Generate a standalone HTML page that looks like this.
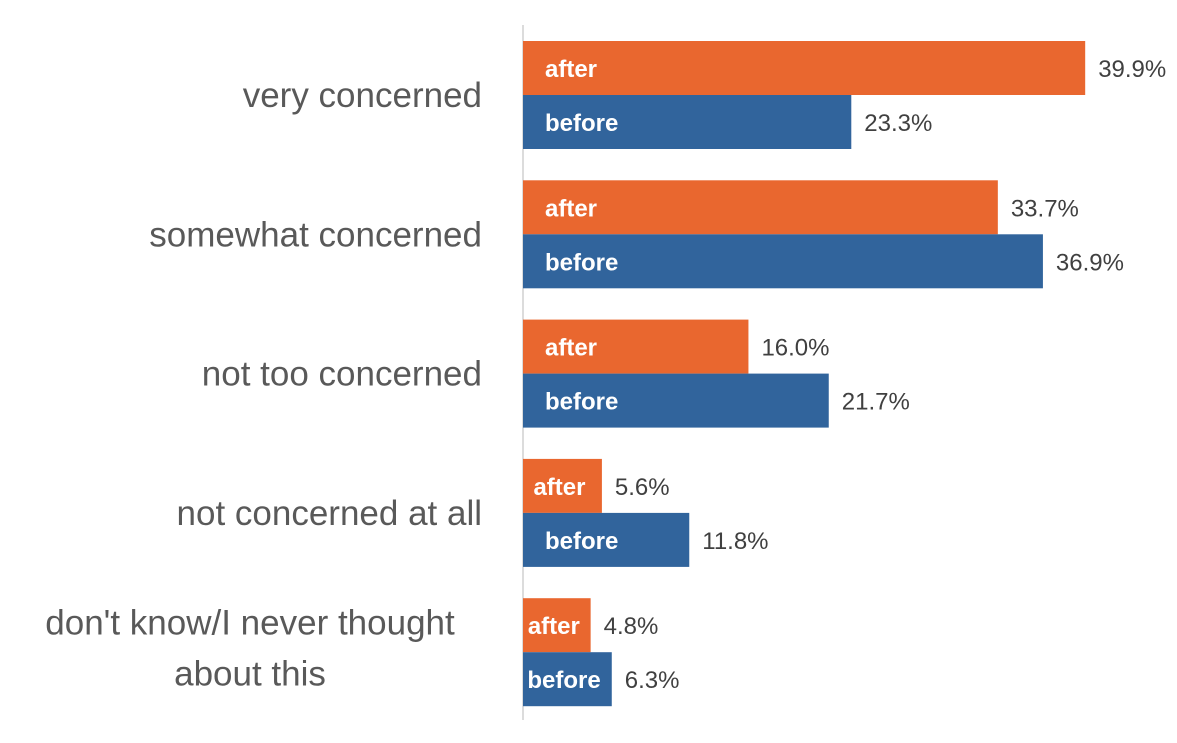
<!DOCTYPE html>
<html><head><meta charset="utf-8">
<style>
html,body{margin:0;padding:0;background:#fff;}
svg{display:block;font-family:"Liberation Sans",sans-serif;}
</style></head>
<body>
<svg id="chart" width="1177" height="743" viewBox="0 0 1177 743" xmlns="http://www.w3.org/2000/svg">
<line x1="523" y1="25" x2="523" y2="720" stroke="#d0d0d0" stroke-width="1.5"/>
<g id="marks"></g>
</svg>
<script>
const categories = [["very concerned"],["somewhat concerned"],["not too concerned"],["not concerned at all"],["don't know/I never thought","about this"]];
const afterValues = [39.9, 33.7, 16.0, 5.6, 4.8];
const beforeValues = [23.3, 36.9, 21.7, 11.8, 6.3];
const seriesNames = ["after","before"];

const x0 = 523, pxPerPct = 14.09, top0 = 41, groupStep = 139.3, barH = 54;
const xScale = v => x0 + v * pxPerPct;
const NS = "http://www.w3.org/2000/svg";
const g = document.getElementById('marks');
function mk(tag, attrs){const e=document.createElementNS(NS,tag);for(const k in attrs)e.setAttribute(k,attrs[k]);g.appendChild(e);return e;}
const colors = ["#E9672F","#31649C"];
categories.forEach((cat, i) => {
  const gy = top0 + i * groupStep;
  const lines = cat;
  const cy = gy + barH;
  const lh = 43;
  lines.forEach((ln, j) => {
    const t = mk('text', {x: lines.length>1 ? 250 : 482, y: cy + 12 + (j - (lines.length-1)/2) * lh * 1.0 + (lines.length>1 ? -8 + j*8 : 0), 'text-anchor': lines.length>1 ? 'middle' : 'end', 'font-size': 35, fill: '#595959'});
    t.textContent = ln;
    
    
  });
  [afterValues[i], beforeValues[i]].forEach((v, s) => {
    const y = gy + s * barH;
    const w = xScale(v) - x0;
    const r = mk('rect', {x: x0, y: y, width: w, height: barH, fill: colors[s]});
    
    
    const tw = s === 0 ? 58 : 80;
    const lx = x0 + Math.max(4, Math.min(22, (w - tw) / 2));
    const il = mk('text', {x: lx, y: y + barH/2 + 9, 'font-size': 24, 'font-weight': 'bold', fill: '#fff'});
    il.textContent = seriesNames[s];
    
    
    const vl = mk('text', {x: xScale(v) + 13, y: y + barH/2 + 9, 'font-size': 24, fill: '#404040'});
    vl.textContent = v.toFixed(1) + '%';
    
    
  });
});
</script>
</body></html>
